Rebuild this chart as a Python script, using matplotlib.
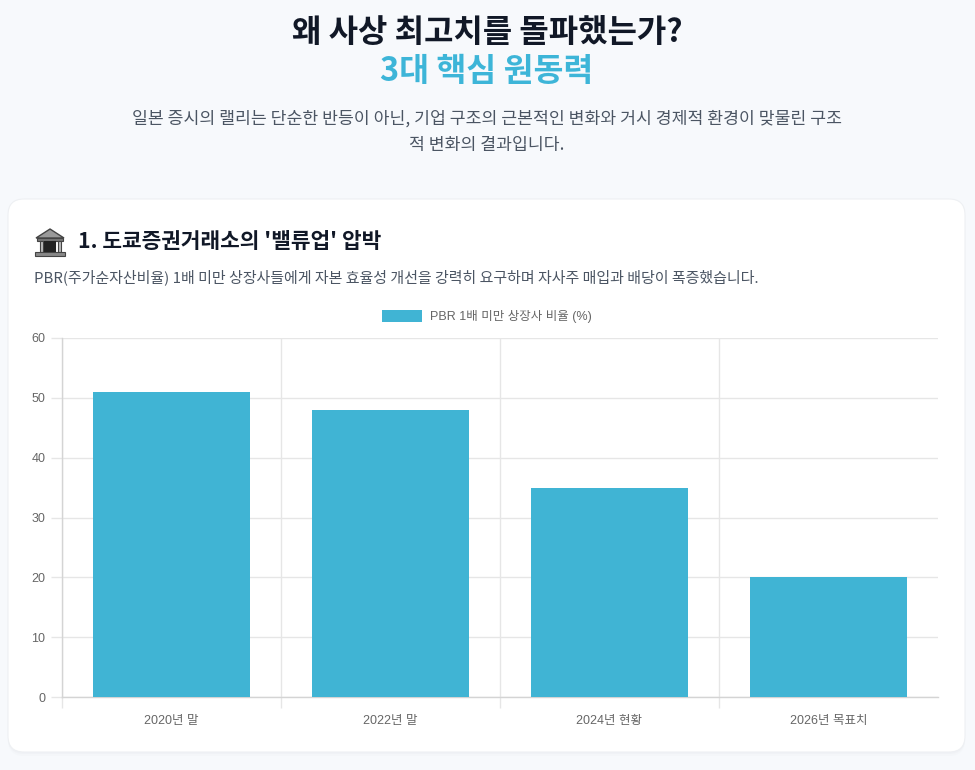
import numpy as np
import matplotlib
matplotlib.use('Agg')
import matplotlib.pyplot as plt
from matplotlib.patches import FancyBboxPatch, Polygon, Rectangle

####################################################################################################
categories = ['2020년 말', '2022년 말', '2024년 현황', '2026년 목표치']
pbr_ratio = [51, 48, 35, 20]
series_label = 'PBR 1배 미만 상장사 비율 (%)'
y_ticks = [0, 10, 20, 30, 40, 50, 60]

title_1 = '왜 사상 최고치를 돌파했는가?'
title_2 = '3대 핵심 원동력'
subtitle_1 = '일본 증시의 랠리는 단순한 반등이 아닌, 기업 구조의 근본적인 변화와 거시 경제적 환경이 맞물린 구조'
subtitle_2 = '적 변화의 결과입니다.'
card_title = "1. 도쿄증권거래소의 '밸류업' 압박"
card_text = 'PBR(주가순자산비율) 1배 미만 상장사들에게 자본 효율성 개선을 강력히 요구하며 자사주 매입과 배당이 폭증했습니다.'

####################################################################################################
KR = ['Noto Sans CJK KR', 'DejaVu Sans']
CHART = ['Liberation Sans', 'Noto Sans CJK KR', 'DejaVu Sans']
bg_color = '#f7f9fc'
bar_color = '#40b4d4'
accent = '#3db5d8'
grid_color = '#e6e6e6'

W, H = 975, 770
fig = plt.figure(figsize=(W / 100, H / 100), dpi=100, facecolor=bg_color)

# background axes in pixel coordinates
bg = fig.add_axes([0, 0, 1, 1])
bg.set_xlim(0, W)
bg.set_ylim(H, 0)
bg.axis('off')
bg.set_zorder(0)

# card with soft shadow
for off, a in [(4, 0.03), (2, 0.04)]:
    bg.add_patch(FancyBboxPatch((8, 199 + off), 957, 553, boxstyle='round,pad=0,rounding_size=16',
                                fc='#9aa4b0', ec='none', alpha=a))
bg.add_patch(FancyBboxPatch((8, 199), 957, 553, boxstyle='round,pad=0,rounding_size=16',
                            fc='white', ec='#eef0f3', lw=0.8))

# header texts
bg.text(487, 33, title_1, ha='center', va='center', fontsize=23, fontweight='heavy',
        color='#111827', family=KR)
bg.text(487, 72, title_2, ha='center', va='center', fontsize=23.4, fontweight='heavy',
        color=accent, family=KR)
bg.text(487, 119, subtitle_1, ha='center', va='center', fontsize=12.4, color='#4b5563', family=KR)
bg.text(487, 145, subtitle_2, ha='center', va='center', fontsize=12.4, color='#4b5563', family=KR)

# small building icon
bg.add_patch(Polygon([(36, 238), (64, 238), (50, 229)], closed=True, fc='#9a9a9a', ec='#444', lw=1))
bg.add_patch(Rectangle((37, 238), 26, 3, fc='#777', ec='#444', lw=0.8))
for cx in [39.5, 45, 52, 57.5]:
    bg.add_patch(Rectangle((cx, 241), 3, 11, fc='#bbbbbb', ec='#444', lw=0.8))
bg.add_patch(Rectangle((44, 241), 12, 11, fc='#222', ec='none'))
bg.add_patch(Rectangle((35, 252), 30, 4, fc='#888', ec='#444', lw=0.8))

bg.text(78, 242, card_title, ha='left', va='center', fontsize=15.4, fontweight='bold',
        color='#111827', family=KR)
bg.text(34, 277, card_text, ha='left', va='center', fontsize=10.8, color='#4b5563', family=KR)

####################################################################################################
ax = fig.add_axes([62 / W, 1 - 697 / H, (938 - 62) / W, (697 - 338) / H])
ax.set_zorder(2)
ax.patch.set_alpha(0)

x = np.arange(len(categories))
ax.bar(x, pbr_ratio, width=0.72, color=bar_color, label=series_label, zorder=3)

ax.set_xlim(-0.5, len(categories) - 0.5)
ax.set_ylim(y_ticks[0], y_ticks[-1])

ax.set_yticks(y_ticks)
ax.set_yticklabels([str(v) for v in y_ticks], family=CHART)
ax.tick_params(axis='y', length=8, width=1, color=grid_color, labelsize=9, labelcolor='#666666', pad=4)

ax.set_xticks(np.arange(len(categories) + 1) - 0.5)
ax.set_xticklabels([''] * (len(categories) + 1))
ax.set_xticks(x, minor=True)
ax.set_xticklabels(categories, minor=True, family=CHART)
ax.tick_params(axis='x', which='major', length=8, width=1, color=grid_color)
ax.tick_params(axis='x', which='minor', length=0, labelsize=9, labelcolor='#666666', pad=13)
ax.get_xticklines()[-2].set_visible(False)

ax.grid(True, which='major', color=grid_color, lw=1, zorder=0)
ax.get_xgridlines()[-1].set_visible(False)

for s in ['top', 'right']:
    ax.spines[s].set_visible(False)
for s in ['left', 'bottom']:
    ax.spines[s].set_color('#d4d4d4')
    ax.spines[s].set_linewidth(1)

leg = ax.legend(loc='lower center', bbox_to_anchor=(0.485, 1.01), frameon=False,
                handlelength=3.2, handleheight=1.05, handletextpad=0.6,
                prop={'family': CHART, 'size': 9})
for t in leg.get_texts():
    t.set_color('#666666')

fig.savefig('out.png', dpi=100, facecolor=bg_color)
